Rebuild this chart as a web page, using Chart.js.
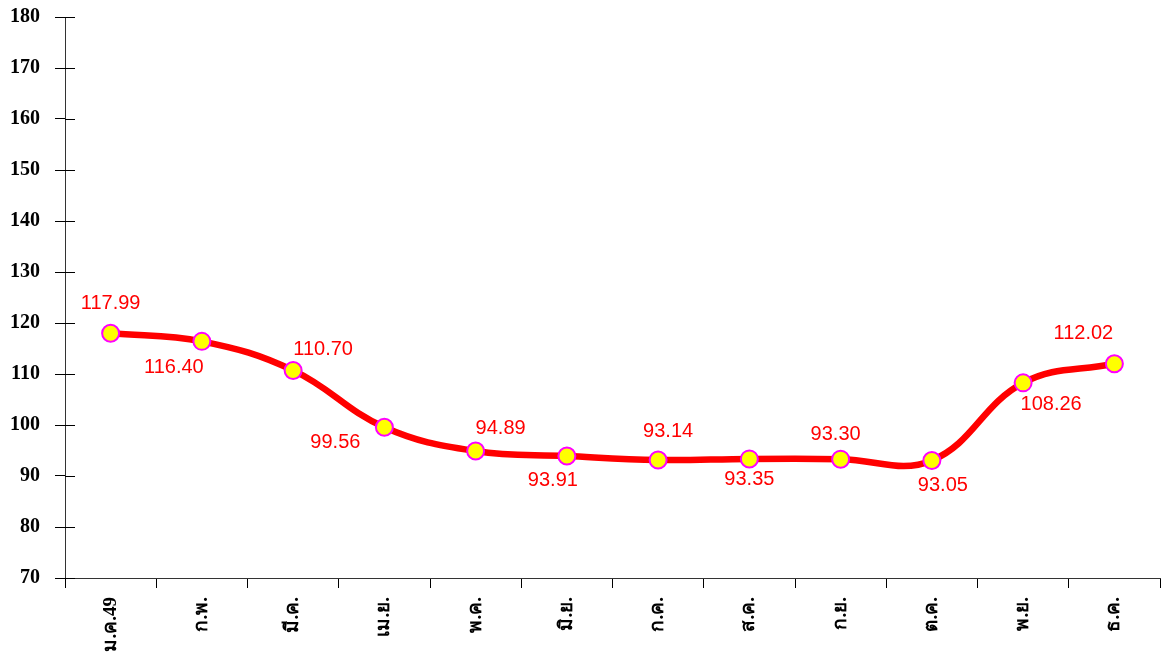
<!DOCTYPE html>
<html>
<head>
<meta charset="utf-8">
<script src="https://cdn.jsdelivr.net/npm/chart.js@4/dist/chart.umd.min.js"></script>
<style>
    html, body { margin: 0; padding: 0; background: #fff; }
    #wrap { width: 1161px; height: 657px; }
</style>
</head>
<body>
<div id="wrap"><canvas id="priceChart"></canvas></div>
<script>
// data
const months = ['ม.ค.49', 'ก.พ.', 'มี.ค.', 'เม.ย.', 'พ.ค.', 'มิ.ย.', 'ก.ค.', 'ส.ค.', 'ก.ย.', 'ต.ค.', 'พ.ย.', 'ธ.ค.'];
const indexValues = [117.99, 116.40, 110.70, 99.56, 94.89, 93.91, 93.14, 93.35, 93.30, 93.05, 108.26, 112.02];
const yTicks = [70, 80, 90, 100, 110, 120, 130, 140, 150, 160, 170, 180];

// where each value label sits relative to its point (dx, dy)
const labelShift = [
    [0, -30], [-28, 26], [30, -21], [-49, 15], [25, -23], [-14, 24],
    [10, -29], [0, 21], [-5, -25], [11, 25], [28, 22], [-31, -30]
];

// value labels next to the points
const valueLabels = {
    id: 'valueLabels',
    afterDatasetsDraw(chart) {
        const ctx = chart.ctx;
        const meta = chart.getDatasetMeta(0);
        ctx.save();
        ctx.font = '20px "Liberation Sans", Arial, sans-serif';
        ctx.fillStyle = '#ff0000';
        ctx.textAlign = 'center';
        ctx.textBaseline = 'middle';
        meta.data.forEach((pt, i) => {
            const s = labelShift[i];
            ctx.fillText(indexValues[i].toFixed(2), pt.x + s[0], pt.y + s[1]);
        });
        ctx.restore();
    }
};

// y ticks cross the axis line, so draw the inner half too
const innerTicks = {
    id: 'innerTicks',
    afterDraw(chart) {
        const ctx = chart.ctx;
        const y = chart.scales.y;
        ctx.save();
        ctx.strokeStyle = '#000';
        ctx.lineWidth = 1;
        ctx.beginPath();
        yTicks.forEach(v => {
            const py = Math.round(y.getPixelForValue(v)) + 0.5;
            ctx.moveTo(y.right, py);
            ctx.lineTo(y.right + 10, py);
        });
        ctx.stroke();
        ctx.restore();
    }
};

const ctx = document.getElementById('priceChart').getContext('2d');
new Chart(ctx, {
    type: 'line',
    data: {
        labels: months,
        datasets: [{
            data: indexValues,
            borderColor: '#ff0000',
            borderWidth: 6.5,
            tension: 0.4,
            fill: false,
            pointRadius: 8.5,
            pointHoverRadius: 8.5,
            pointBackgroundColor: '#ffff00',
            pointBorderColor: '#ff00ff',
            pointBorderWidth: 2
        }]
    },
    options: {
        responsive: true,
        maintainAspectRatio: false,
        animation: false,
        layout: { autoPadding: false, padding: { top: 17, right: 1, left: 0, bottom: 0 } },
        plugins: {
            legend: { display: false },
            tooltip: { enabled: false }
        },
        scales: {
            x: {
                offset: true,
                afterFit: (s) => { s.height = 79; s.paddingLeft = 0; s.paddingRight = 0; },
                border: { color: '#333', width: 1 },
                grid: { drawOnChartArea: false, tickLength: 10, color: '#000', offset: true },
                ticks: {
                    color: '#000',
                    minRotation: 90,
                    maxRotation: 90,
                    padding: 9,
                    font: { family: '"Liberation Serif", "Times New Roman", serif', size: 19, weight: 'bold' }
                }
            },
            y: {
                min: 70,
                max: 180,
                afterFit: (s) => { s.width = 65; s.paddingTop = 0; s.paddingBottom = 0; },
                afterBuildTicks: (s) => { s.ticks = yTicks.map(v => ({ value: v })); },
                border: { color: '#333', width: 1 },
                grid: { drawOnChartArea: false, tickLength: 10, color: '#000' },
                ticks: {
                    color: '#000',
                    padding: 15,
                    font: { family: '"Liberation Serif", "Times New Roman", serif', size: 20, weight: 'bold' }
                }
            }
        }
    },
    plugins: [valueLabels, innerTicks]
});
</script>
</body>
</html>
